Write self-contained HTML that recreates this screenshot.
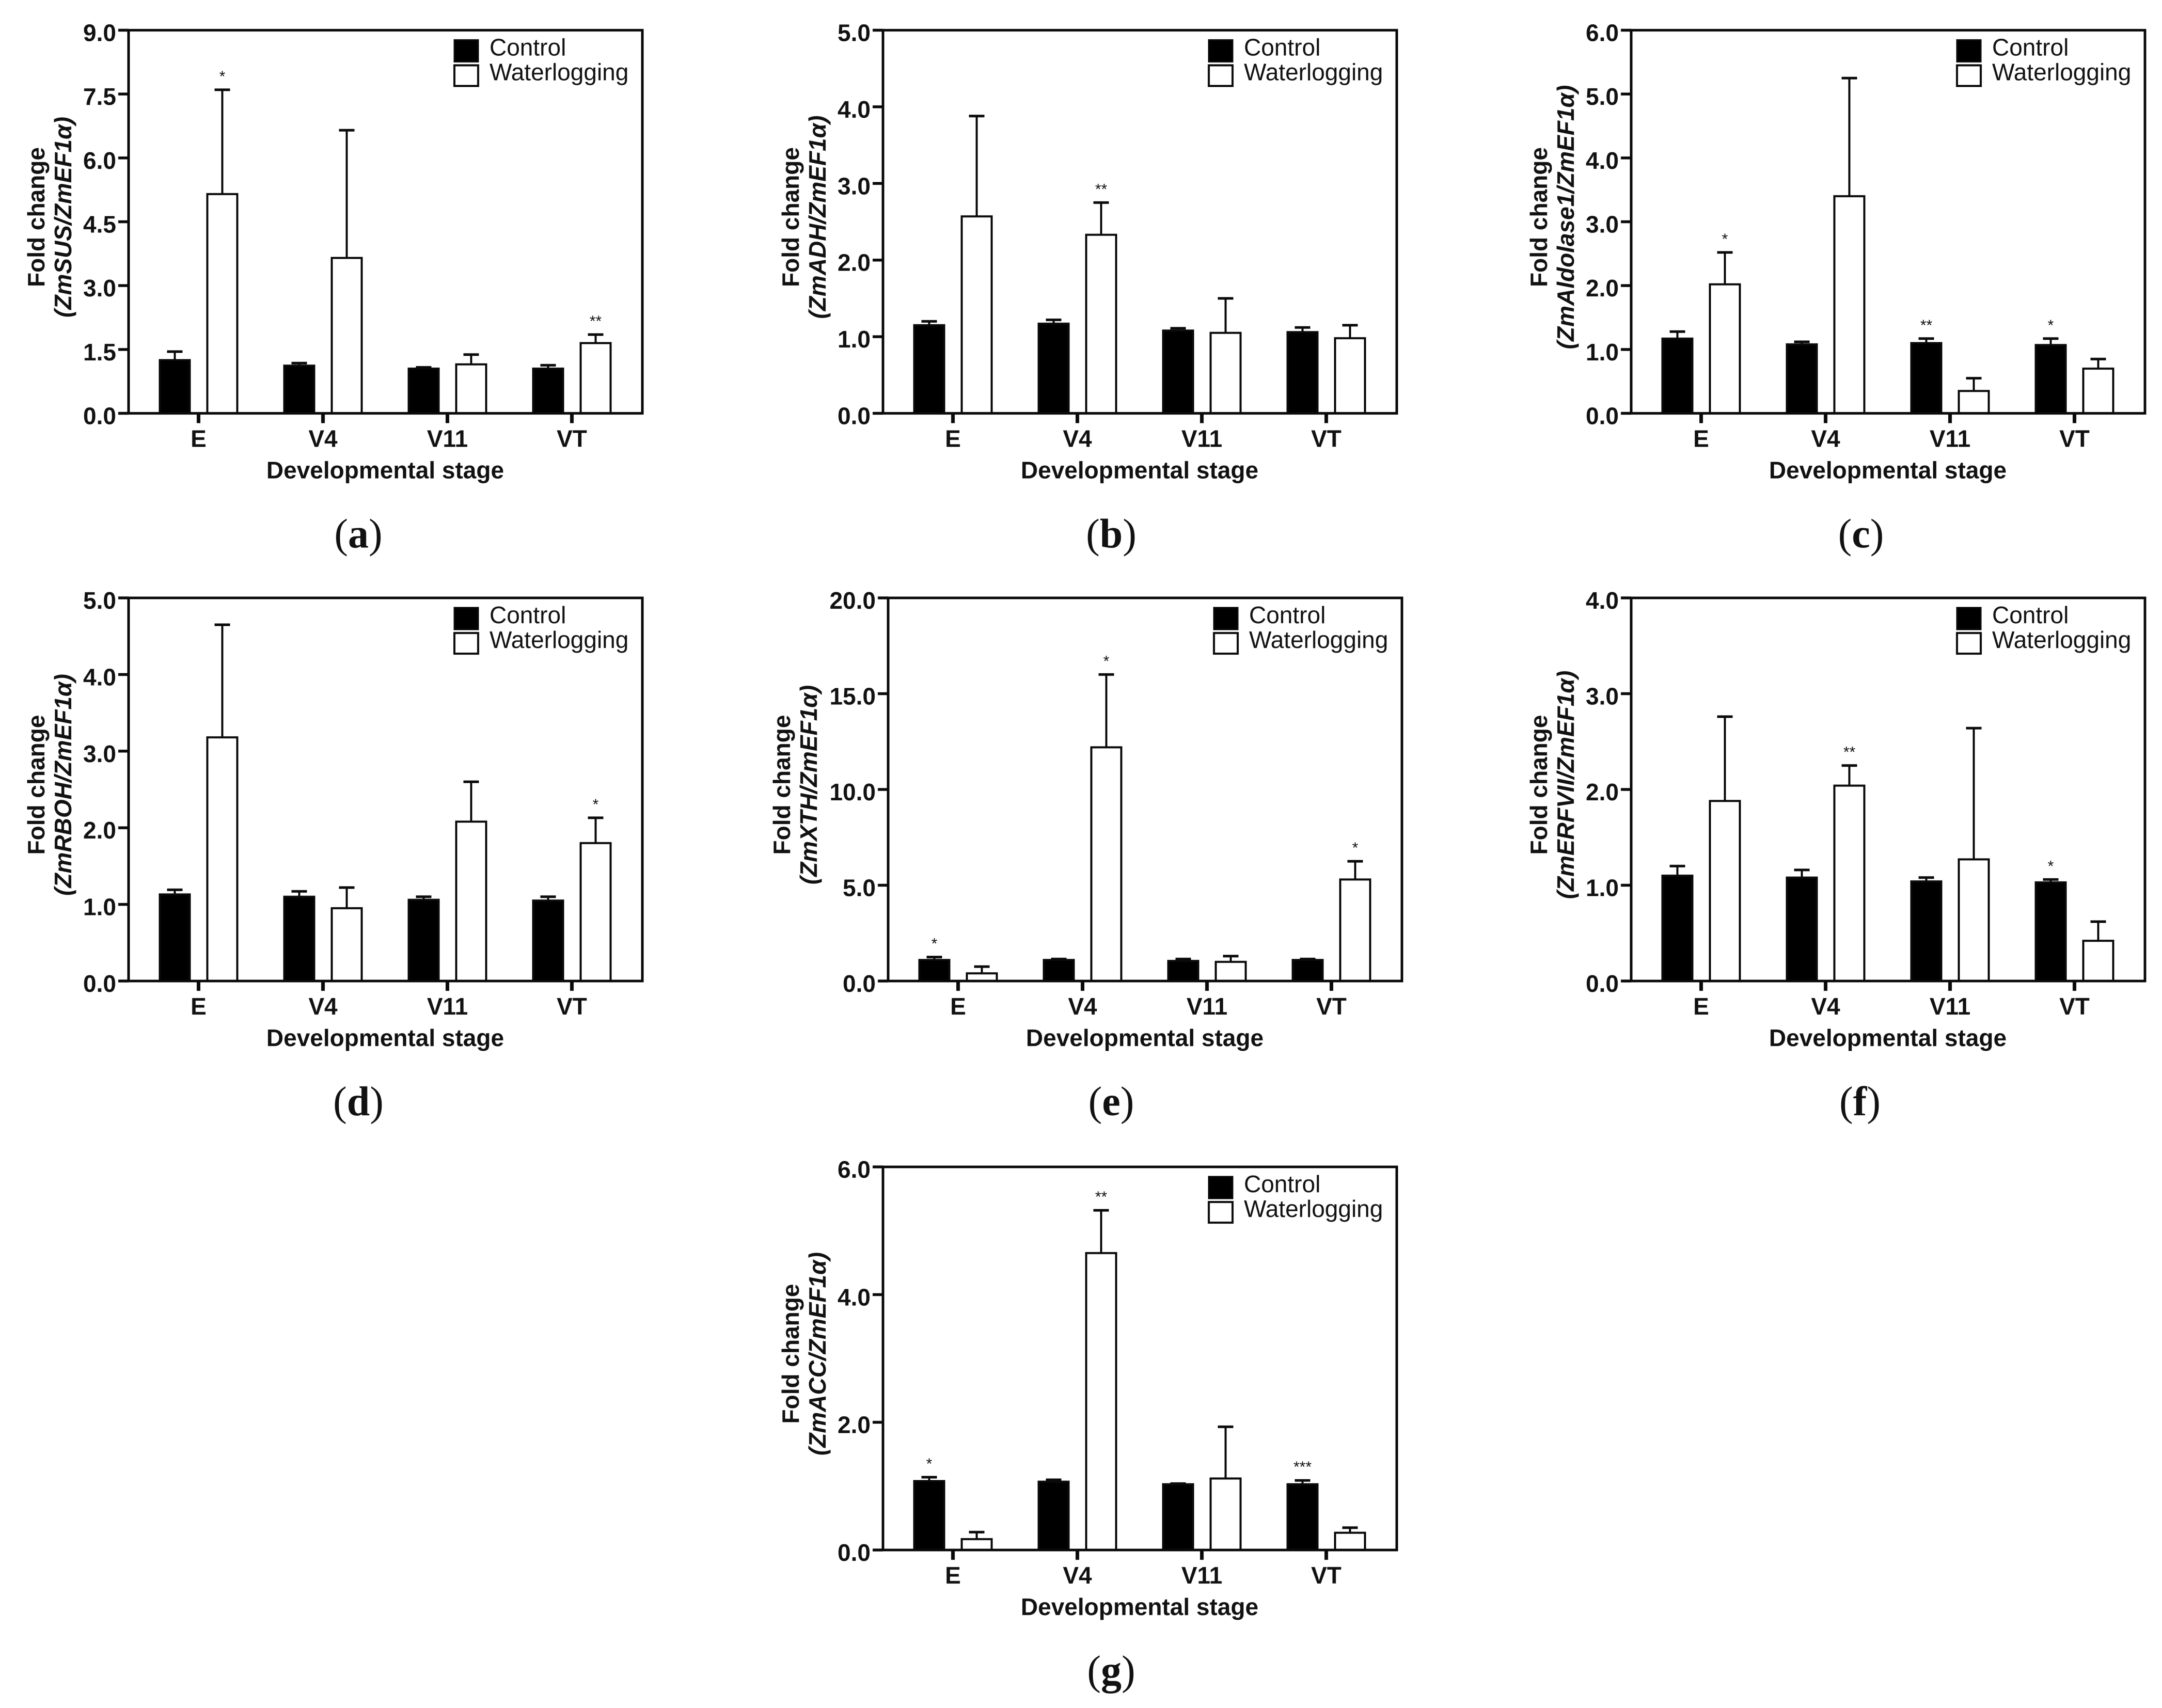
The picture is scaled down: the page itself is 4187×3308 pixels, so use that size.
<!DOCTYPE html>
<html lang="en">
<head>
<meta charset="utf-8">
<title>Fold change by developmental stage</title>
<style>
html,body{margin:0;padding:0;background:#fff;}
#figure{display:block;width:4187px;height:3308px;background:#fff;filter:blur(0.9px);}
text{font-family:"Liberation Sans",sans-serif;fill:#111;}
.serif{font-family:"Liberation Serif",serif;}
</style>
</head>
<body>
<svg id="figure" xmlns="http://www.w3.org/2000/svg" width="4187" height="3308" viewBox="0 0 4187 3308"></svg>
<script>
const categories = ['E', 'V4', 'V11', 'VT'];

const susTicks = ['0.0', '1.5', '3.0', '4.5', '6.0', '7.5', '9.0'];
const susControl = [1.25, 1.12, 1.05, 1.05];
const susControlErr = [0.2, 0.06, 0.03, 0.08];
const susWater = [5.15, 3.65, 1.15, 1.65];
const susWaterErr = [2.45, 3.0, 0.23, 0.2];
const susControlSig = ['', '', '', ''];
const susWaterSig = ['*', '', '', '**'];

const adhTicks = ['0.0', '1.0', '2.0', '3.0', '4.0', '5.0'];
const adhControl = [1.15, 1.17, 1.08, 1.06];
const adhControlErr = [0.05, 0.05, 0.03, 0.06];
const adhWater = [2.57, 2.33, 1.05, 0.98];
const adhWaterErr = [1.31, 0.42, 0.45, 0.17];
const adhControlSig = ['', '', '', ''];
const adhWaterSig = ['', '**', '', ''];

const aldTicks = ['0.0', '1.0', '2.0', '3.0', '4.0', '5.0', '6.0'];
const aldControl = [1.17, 1.08, 1.1, 1.07];
const aldControlErr = [0.11, 0.04, 0.07, 0.1];
const aldWater = [2.02, 3.4, 0.35, 0.7];
const aldWaterErr = [0.5, 1.85, 0.2, 0.15];
const aldControlSig = ['', '', '**', '*'];
const aldWaterSig = ['*', '', '', ''];

const rbohTicks = ['0.0', '1.0', '2.0', '3.0', '4.0', '5.0'];
const rbohControl = [1.13, 1.1, 1.06, 1.05];
const rbohControlErr = [0.06, 0.07, 0.04, 0.05];
const rbohWater = [3.18, 0.95, 2.08, 1.8];
const rbohWaterErr = [1.47, 0.27, 0.52, 0.33];
const rbohControlSig = ['', '', '', ''];
const rbohWaterSig = ['', '', '', '*'];

const xthTicks = ['0.0', '5.0', '10.0', '15.0', '20.0'];
const xthControl = [1.1, 1.1, 1.05, 1.1];
const xthControlErr = [0.15, 0.05, 0.1, 0.05];
const xthWater = [0.4, 12.2, 1.0, 5.3];
const xthWaterErr = [0.35, 3.8, 0.3, 0.95];
const xthControlSig = ['*', '', '', ''];
const xthWaterSig = ['', '*', '', '*'];

const erfTicks = ['0.0', '1.0', '2.0', '3.0', '4.0'];
const erfControl = [1.1, 1.08, 1.04, 1.03];
const erfControlErr = [0.1, 0.08, 0.04, 0.03];
const erfWater = [1.88, 2.04, 1.27, 0.42];
const erfWaterErr = [0.88, 0.21, 1.37, 0.2];
const erfControlSig = ['', '', '', '*'];
const erfWaterSig = ['', '**', '', ''];

const accTicks = ['0.0', '2.0', '4.0', '6.0'];
const accControl = [1.08, 1.07, 1.03, 1.03];
const accControlErr = [0.06, 0.03, 0.01, 0.06];
const accWater = [0.17, 4.65, 1.12, 0.27];
const accWaterErr = [0.11, 0.67, 0.81, 0.08];
const accControlSig = ['*', '', '', '***'];
const accWaterSig = ['', '**', '', ''];

const panels = [
  {id:'a', gene:'(ZmSUS/ZmEF1α)', ticks:susTicks, control:susControl, controlErr:susControlErr, water:susWater, waterErr:susWaterErr, controlSig:susControlSig, waterSig:susWaterSig, left:249, top:58.5, labelX:694, titleDx:0},
  {id:'b', gene:'(ZmADH/ZmEF1α)', ticks:adhTicks, control:adhControl, controlErr:adhControlErr, water:adhWater, waterErr:adhWaterErr, controlSig:adhControlSig, waterSig:adhWaterSig, left:1710, top:58.5, labelX:2152, titleDx:0},
  {id:'c', gene:'(ZmAldolase1/ZmEF1α)', ticks:aldTicks, control:aldControl, controlErr:aldControlErr, water:aldWater, waterErr:aldWaterErr, controlSig:aldControlSig, waterSig:aldWaterSig, left:3159, top:58.5, labelX:3604, titleDx:0},
  {id:'d', gene:'(ZmRBOH/ZmEF1α)', ticks:rbohTicks, control:rbohControl, controlErr:rbohControlErr, water:rbohWater, waterErr:rbohWaterErr, controlSig:rbohControlSig, waterSig:rbohWaterSig, left:249, top:1158, labelX:694, titleDx:0},
  {id:'e', gene:'(ZmXTH/ZmEF1α)', ticks:xthTicks, control:xthControl, controlErr:xthControlErr, water:xthWater, waterErr:xthWaterErr, controlSig:xthControlSig, waterSig:xthWaterSig, left:1720, top:1158, labelX:2152, titleDx:-27},
  {id:'f', gene:'(ZmERFVII/ZmEF1α)', ticks:erfTicks, control:erfControl, controlErr:erfControlErr, water:erfWater, waterErr:erfWaterErr, controlSig:erfControlSig, waterSig:erfWaterSig, left:3159, top:1158, labelX:3602, titleDx:0},
  {id:'g', gene:'(ZmACC/ZmEF1α)', ticks:accTicks, control:accControl, controlErr:accControlErr, water:accWater, waterErr:accWaterErr, controlSig:accControlSig, waterSig:accWaterSig, left:1710, top:2260, labelX:2152, titleDx:0}
];

const PLOT_W = 995, PLOT_H = 742, BAND = 241, FIRST = 135.5, BAR_W = 58, BAR_OFF = 46;
const INK = '#0a0a0a';
const NS = 'http://www.w3.org/2000/svg';
const figure = document.getElementById('figure');

function make(parent, tag, attrs, content) {
  const node = document.createElementNS(NS, tag);
  for (const key in attrs) node.setAttribute(key, attrs[key]);
  if (content !== undefined) node.textContent = content;
  parent.appendChild(node);
  return node;
}

function drawBar(group, p, yScale, cx, value, err, sig, isControl, cat) {
  const seriesName = isControl ? 'control' : 'waterlogging';
  const yTop = yScale(value);
  const yErr = yScale(value + err);
  const yBase = p.top + PLOT_H;

  const stem = make(group, 'line', {x1:cx, x2:cx, y1:yTop, y2:yErr, stroke:INK, 'stroke-width':4});
  
  

  const cap = make(group, 'line', {x1:cx - 15, x2:cx + 15, y1:yErr, y2:yErr, stroke:INK, 'stroke-width':5});
  
  

  const bar = make(group, 'rect', {
    x: cx - BAR_W / 2, y: yTop, width: BAR_W, height: yBase - yTop,
    fill: isControl ? '#000' : '#fff', stroke: INK, 'stroke-width': 4
  });
  
  

  if (sig) {
    const star = make(group, 'text', {x:cx, y:yErr - 16, 'text-anchor':'middle', 'font-size':30}, sig);
    
    
  }
}

function drawPanel(p) {
  const right = p.left + PLOT_W;
  const bottom = p.top + PLOT_H;
  const maxVal = parseFloat(p.ticks[p.ticks.length - 1]);
  const yScale = function (v) { return bottom - (v / maxVal) * PLOT_H; };
  const xScale = function (i) { return p.left + FIRST + i * BAND; };

  const group = make(figure, 'g', {});
  
  

  p.ticks.forEach(function (label) {
    const ty = yScale(parseFloat(label));
    const tick = make(group, 'line', {x1:p.left - 20, x2:p.left, y1:ty, y2:ty, stroke:INK, 'stroke-width':5.5});
    
    
    const text = make(group, 'text', {x:p.left - 24, y:ty + 21, 'text-anchor':'end', 'font-size':46, 'font-weight':'bold'}, label);
    
    
  });

  categories.forEach(function (cat, i) {
    const cx = xScale(i);
    drawBar(group, p, yScale, cx - BAR_OFF, p.control[i], p.controlErr[i], p.controlSig[i], true, cat);
    drawBar(group, p, yScale, cx + BAR_OFF, p.water[i], p.waterErr[i], p.waterSig[i], false, cat);
    const tick = make(group, 'line', {x1:cx, x2:cx, y1:bottom, y2:bottom + 19, stroke:INK, 'stroke-width':7});
    
    
    const text = make(group, 'text', {x:cx, y:bottom + 65, 'text-anchor':'middle', 'font-size':46, 'font-weight':'bold'}, cat);
    
    
  });

  const frame = make(group, 'rect', {x:p.left, y:p.top, width:PLOT_W, height:PLOT_H, fill:'none', stroke:INK, 'stroke-width':5});
  
  

  const xTitle = make(group, 'text', {x:p.left + 497, y:bottom + 126, 'text-anchor':'middle', 'font-size':46, 'font-weight':'bold'}, 'Developmental stage');
  
  

  const cy = p.top + 362;
  const lineOneX = p.left - 163 + p.titleDx;
  const lineTwoX = p.left - 111 + p.titleDx;
  const yTitle = make(group, 'text', {x:lineOneX, y:cy, 'text-anchor':'middle', 'font-size':46, 'font-weight':'bold', transform:'rotate(-90 ' + lineOneX + ' ' + cy + ')'}, 'Fold change');
  
  
  const geneTitle = make(group, 'text', {x:lineTwoX, y:cy, 'text-anchor':'middle', 'font-size':46, 'font-weight':'bold', 'font-style':'italic', transform:'rotate(-90 ' + lineTwoX + ' ' + cy + ')'}, p.gene);
  
  

  const controlSwatch = make(group, 'rect', {x:p.left + 631, y:p.top + 19, width:46, height:42, fill:'#000', stroke:INK, 'stroke-width':3});
  
  
  const controlLabel = make(group, 'text', {x:p.left + 699, y:p.top + 49, 'font-size':46}, 'Control');
  
  
  const waterSwatch = make(group, 'rect', {x:p.left + 631, y:p.top + 68, width:46, height:40, fill:'#fff', stroke:INK, 'stroke-width':4});
  
  
  const waterLabel = make(group, 'text', {x:p.left + 699, y:p.top + 97, 'font-size':46}, 'Waterlogging');
  
  

  const panelLabel = make(group, 'text', {x:p.labelX, y:bottom + 260, 'text-anchor':'middle', 'font-size':80, 'class':'serif'});
  
  
  make(panelLabel, 'tspan', {}, '(');
  make(panelLabel, 'tspan', {'font-weight':'bold'}, p.id);
  make(panelLabel, 'tspan', {}, ')');
}

panels.forEach(drawPanel);
</script>
</body>
</html>
